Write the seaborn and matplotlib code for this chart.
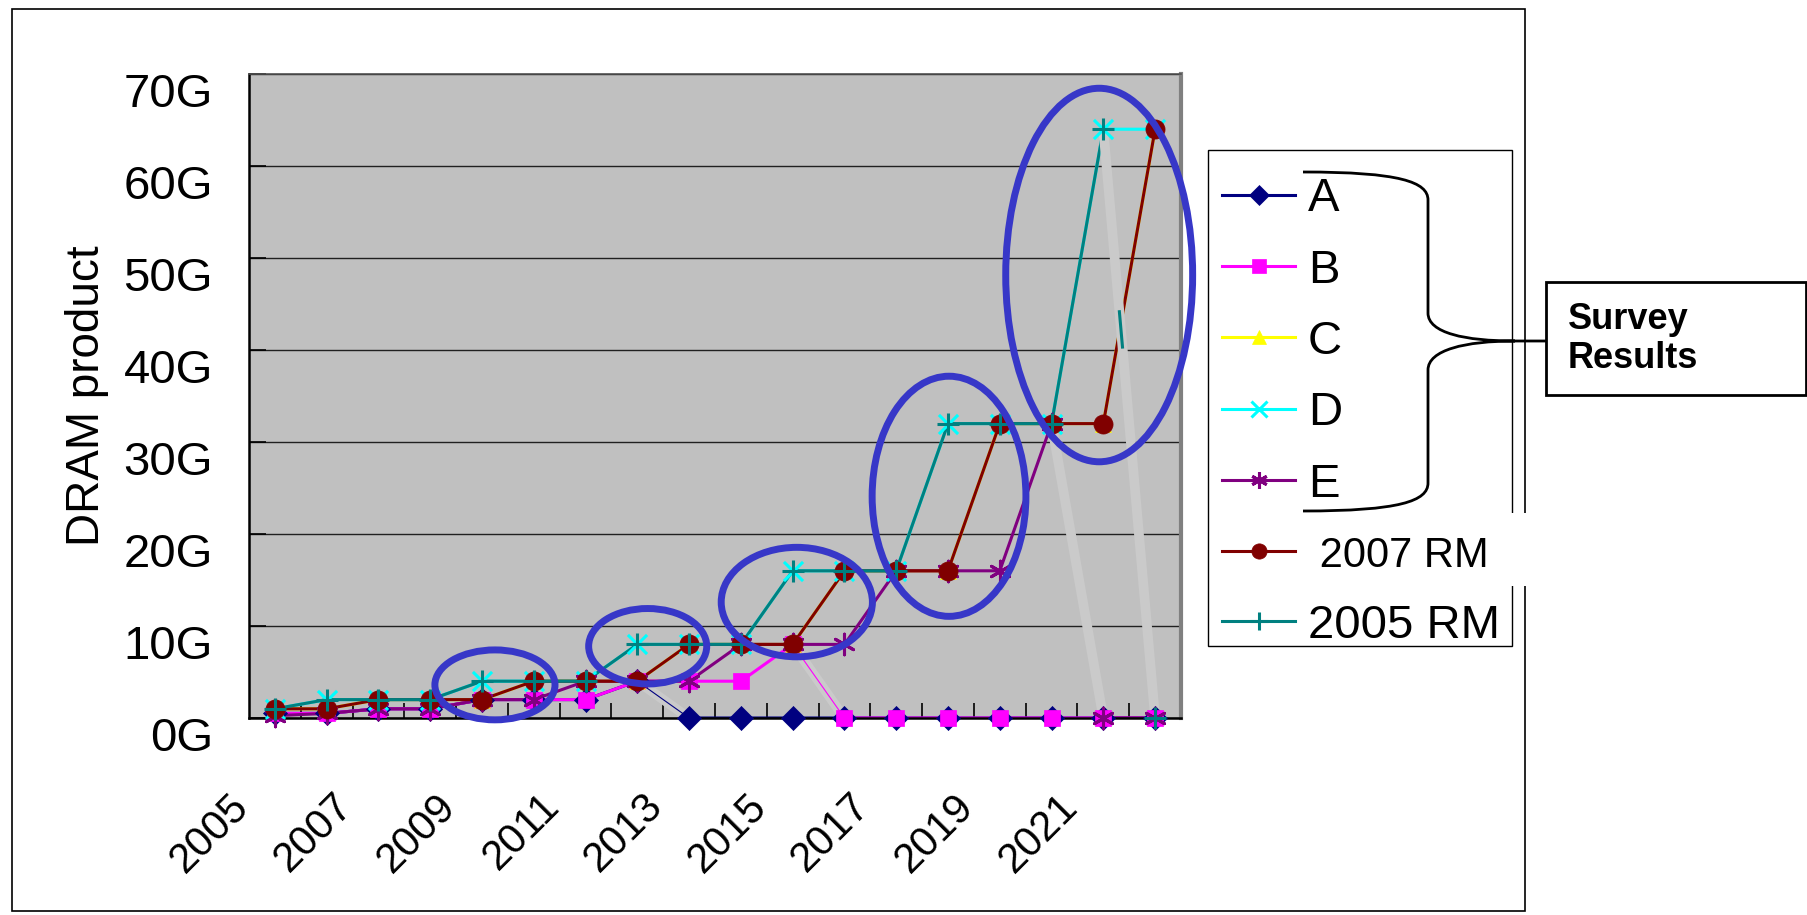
import matplotlib
matplotlib.use("Agg")
import matplotlib.pyplot as plt
import seaborn as sns
from matplotlib.patches import Ellipse, Rectangle, PathPatch
from matplotlib.path import Path
from matplotlib.lines import Line2D
from matplotlib.transforms import ScaledTranslation

# ---------------- data ----------------
years = list(range(2005, 2023))
series_a = [0.5, 0.5, 1, 1, 2, 2, 2, 4, 0, 0, 0, 0, 0, 0, 0, 0, 0, 0]
series_b = [0.5, 0.5, 1, 1, 2, 2, 2, 4, 4, 4, 8, 0, 0, 0, 0, 0, 0, 0]
series_c = [1, 1, 2, 2, 2, 4, 4, 4, 8, 8, 8, 16, 16, 16, 32, 32, 32, 64]
series_d = [1, 2, 2, 2, 4, 4, 4, 8, 8, 8, 16, 16, 16, 32, 32, 32, 64, 64]
series_e = [0.25, 0.5, 1, 1, 2, 2, 4, 4, 4, 8, 8, 8, 16, 16, 16, 32, 0, 0]
rm_2007 = [1, 1, 2, 2, 2, 4, 4, 4, 8, 8, 8, 16, 16, 16, 32, 32, 32, 64]
rm_2005 = [1, 2, 2, 2, 4, 4, 4, 8, 8, 8, 16, 16, 16, 32, 32, 32, 64, 0]

series_names = ["A", "B", "C", "D", "E", " 2007 RM", "2005 RM"]
series_values = [series_a, series_b, series_c, series_d, series_e, rm_2007, rm_2005]

y_ticks = [0, 10, 20, 30, 40, 50, 60, 70]
y_tick_labels = [f"{v}G" for v in y_ticks]
x_label_years = list(range(2005, 2022, 2))
y_title = "DRAM product"
callout_text = "Survey\nResults"

# ---------------- styles ----------------
# (colour, marker, scatter size, marker edge width, filled)
styles = [
    ("#000080", "D", 150, 0.5, True),
    ("#FF00FF", "s", 145, 0.5, True),
    ("#FFFF00", "^", 130, 0.5, True),
    ("#00FFFF", "x", 190, 2.2, False),
    ("#800080", (6, 2, 0), 220, 2.2, False),
    ("#800000", "o", 190, 0.5, True),
    ("#008080", "+", 250, 2.2, False),
]
legend_ms = [10, 10, 10, 11, 12, 11, 13]

FONT = "Liberation Sans"
plt.rcParams["font.family"] = [FONT, "DejaVu Sans"]

W, H = 1808, 915
fig = plt.figure(figsize=(W / 100, H / 100), dpi=100)
fig.patch.set_facecolor("white")


def fx(px):
    return px / W


def fy(py):
    return 1 - py / H


ax = fig.add_axes([fx(249), fy(718), fx(932), 644 / H])
ax.set_facecolor("#C0C0C0")

# series lines (markers are drawn afterwards, above the lines)
for i, (vals, st) in enumerate(zip(series_values, styles)):
    sns.lineplot(x=years, y=vals, ax=ax, color=st[0], lw=2.2, zorder=2 + 0.1 * i,
                 legend=False, sort=False)

# pale bands over the segments where a series falls back to zero
for i, (vals, st) in enumerate(zip(series_values, styles)):
    for k in range(1, len(vals)):
        if vals[k] == 0 and vals[k - 1] > 0:
            ax.plot([years[k - 1], years[k]], [vals[k - 1], vals[k]], color="#CACACA",
                    lw=7, solid_capstyle="butt", zorder=2.8)
            if i in (0, 1):
                ax.plot([years[k - 1], years[k]], [vals[k - 1], vals[k]], color=st[0],
                        lw=0.8, zorder=2.85)
            if i == 6:
                t0, t1 = 0.31, 0.37
                xa = years[k - 1] + t0 * (years[k] - years[k - 1])
                xb = years[k - 1] + t1 * (years[k] - years[k - 1])
                ya = vals[k - 1] + t0 * (vals[k] - vals[k - 1])
                yb = vals[k - 1] + t1 * (vals[k] - vals[k - 1])
                ax.plot([xa, xb], [ya, yb], color=st[0], lw=2.2, zorder=2.85)

# markers
for i, (vals, st) in enumerate(zip(series_values, styles)):
    color, marker, size, mew, filled = st
    kws = dict(x=years, y=vals, ax=ax, marker=marker, s=size, zorder=3 + 0.1 * i,
               clip_on=False, legend=False)
    if filled:
        sns.scatterplot(color=color, edgecolor=color, linewidth=mew, **kws)
    else:
        sns.scatterplot(color=color, linewidth=mew, **kws)

# highlight ellipses (data coordinates: centre year, centre value, width, height)
ellipses = [
    (2009.25, 3.6, 2.32, 7.6),
    (2012.2, 7.8, 2.28, 8.2),
    (2015.08, 12.6, 2.92, 11.9),
    (2018.02, 24.1, 2.97, 26.1),
    (2020.92, 48.15, 3.61, 40.6),
]
for cx, cy, w, h in ellipses:
    ax.add_patch(Ellipse((cx, cy), w, h, fill=False, edgecolor="#3737C8", lw=5,
                         zorder=5, clip_on=False))

# axes ranges, ticks and grid
ax.set_xlim(2004.5, 2022.5)
ax.set_ylim(0, 70)
ax.set_xticks([y + 0.5 for y in years[:-1]])
ax.set_xticklabels([])
ax.set_xticks(x_label_years, minor=True)
ax.set_xticklabels([str(y) for y in x_label_years], minor=True, rotation=45,
                   ha="right", va="top", fontsize=30)
ax.tick_params(axis="x", which="major", direction="in", length=10.5, width=1.2,
               color="black", labelbottom=False)
ax.tick_params(axis="x", which="minor", length=0, pad=49)
for lbl in ax.get_xticklabels(minor=True):
    lbl.set_transform(lbl.get_transform() + ScaledTranslation(-0.18, 0, fig.dpi_scale_trans))

ax.set_yticks(y_ticks)
ax.set_yticklabels(y_tick_labels, fontsize=34)
ax.tick_params(axis="y", direction="in", length=12, width=1.2, color="black", pad=26)
for lbl in ax.get_yticklabels():
    lbl.set_transform(lbl.get_transform() + ScaledTranslation(0, -0.16, fig.dpi_scale_trans))

ax.yaxis.grid(True, color="#202020", lw=1.0)
ax.xaxis.grid(False)
ax.set_axisbelow(True)

ax.set_xlabel("")
ax.set_ylabel(y_title, fontsize=33, va="center")
ax.yaxis.set_label_coords(-0.174, 0.5)

for side in ("left", "bottom"):
    ax.spines[side].set_color("black")
    ax.spines[side].set_linewidth(1.8)
ax.spines["top"].set_color("#505050")
ax.spines["top"].set_linewidth(1.2)
ax.spines["right"].set_color("#808080")
ax.spines["right"].set_linewidth(3)

# legend frame
fig.add_artist(Rectangle((fx(1208), fy(646)), fx(304), 496 / H, transform=fig.transFigure,
                         facecolor="white", edgecolor="black", lw=1.0, zorder=4))

# legend entries
handles = []
for st, ms in zip(styles, legend_ms):
    color, marker, size, mew, filled = st
    handles.append(Line2D([], [], color=color, lw=2.2, marker=marker, markersize=ms,
                          markerfacecolor=color, markeredgecolor=color,
                          markeredgewidth=(mew if not filled else 0.5)))
leg = fig.legend(handles, series_names, loc="upper left",
                 bbox_to_anchor=(fx(1208), fy(163)), bbox_transform=fig.transFigure,
                 frameon=False, borderaxespad=0, fontsize=34, handlelength=1.55,
                 handletextpad=0.27, labelspacing=0.58, borderpad=0.3)
leg.set_zorder(5)
leg.get_texts()[5].set_fontsize(30)

# curly brace grouping the survey entries
brace = [
    (Path.MOVETO, (1303, 172)),
    (Path.CURVE4, (1400, 172)), (Path.CURVE4, (1428, 182)), (Path.CURVE4, (1428, 200)),
    (Path.LINETO, (1428, 313)),
    (Path.CURVE4, (1428, 333)), (Path.CURVE4, (1465, 341)), (Path.CURVE4, (1515, 341)),
    (Path.LINETO, (1553, 341)),
    (Path.MOVETO, (1515, 341)),
    (Path.CURVE4, (1465, 341)), (Path.CURVE4, (1428, 350)), (Path.CURVE4, (1428, 370)),
    (Path.LINETO, (1428, 483)),
    (Path.CURVE4, (1428, 501)), (Path.CURVE4, (1400, 511)), (Path.CURVE4, (1303, 511)),
]
codes = [c for c, _ in brace]
verts = [(fx(x), fy(y)) for _, (x, y) in brace]
fig.add_artist(PathPatch(Path(verts, codes), transform=fig.transFigure, fill=False,
                         edgecolor="black", lw=2.0, zorder=12))

# callout box
fig.add_artist(Rectangle((fx(1546), fy(395)), fx(260), 113 / H, transform=fig.transFigure,
                         facecolor="white", edgecolor="black", lw=2.0, zorder=13))
fig.text(fx(1568), fy(339), callout_text, fontsize=26, fontweight="bold", ha="left",
         va="center", linespacing=1.15, zorder=14)

# white strip behind the " 2007 RM" entry
fig.add_artist(Rectangle((fx(1500), fy(586)), fx(36), 73 / H, transform=fig.transFigure,
                         facecolor="white", edgecolor="none", zorder=11))

# outer frame
fig.add_artist(Rectangle((fx(12), fy(911)), fx(1513), 902 / H, transform=fig.transFigure,
                         fill=False, edgecolor="black", lw=1.2, zorder=10))

fig.savefig("out.png", dpi=100, facecolor="white")
